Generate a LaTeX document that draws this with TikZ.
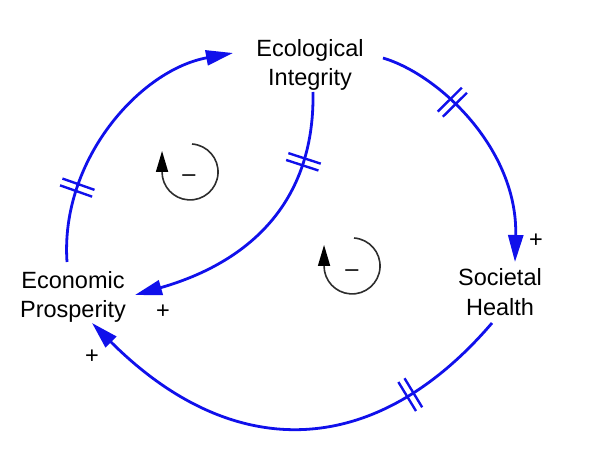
\documentclass[tikz,border=0pt]{standalone}
\usepackage{fontspec}
\setmainfont{Liberation Sans}
\usetikzlibrary{arrows.meta,decorations.markings}
\definecolor{cldblue}{RGB}{16,16,235}
\definecolor{loopgray}{RGB}{45,45,45}
\tikzset{
  lbl/.style={align=center, inner sep=0pt, font=\fontsize{23.5}{29.5}\selectfont},
  sign/.style={inner sep=0pt, font=\fontsize{23.5}{28}\selectfont},
  conn/.style={draw=cldblue, line width=2.8pt, -{Triangle[length=27pt,width=15pt]}},
  delaymark/.style={postaction={decorate, decoration={markings,
      mark=at position #1 with {\draw[-, cldblue, line width=2.4pt]
        (-3.6pt,-17pt) -- (-3.6pt,17pt) (3.6pt,-17pt) -- (3.6pt,17pt);}}}},
  loopc/.style={draw=loopgray, line width=1.6pt, -{Triangle[length=21pt,width=12pt,fill=black,color=black]}}
}
\begin{document}
\begin{tikzpicture}[x=1pt,y=-1pt]
\useasboundingbox (0,0) rectangle (594,468);
% variables
\node[lbl] (eco) at (310,65) {Ecological\\Integrity};
\node[lbl] (soc) at (500,292) {Societal\\Health};
\node[lbl] (ep) at (73,297) {Economic\\Prosperity};
% links
\draw[conn, delaymark=0.26] ([shift={(-6,-35)}]ep.center)
  .. controls (60,160) and (140,70) .. ([shift={(-77,-12)}]eco.center);
\draw[conn, delaymark=0.32] ([shift={(73,-7)}]eco.center)
  .. controls (440,75) and (518,150) .. ([shift={(15,-30)}]soc.center);
\draw[conn, delaymark=0.235] ([shift={(-8,31)}]soc.center)
  .. controls (373,462) and (231,462) .. ([shift={(19,26)}]ep.center);
\draw[conn, delaymark=0.24] ([shift={(3,27)}]eco.center)
  .. controls (315,210) and (240,265) .. ([shift={(62,-2)}]ep.center);
% polarities
\node[sign] (p1) at (536,241) {+};
\node[sign] (p2) at (163,312) {+};
\node[sign] (p3) at (92,357) {+};
% loop identifiers
\draw[loopc] (192,144) arc[start angle=-86, end angle=180, radius=28] -- ++(0,-21);
\node[sign] (m1) at (189,178.5) {–};
\draw[loopc] (354,238) arc[start angle=-86, end angle=180, radius=28] -- ++(0,-21);
\node[sign] (m2) at (352,273.5) {–};
\end{tikzpicture}
\end{document}
